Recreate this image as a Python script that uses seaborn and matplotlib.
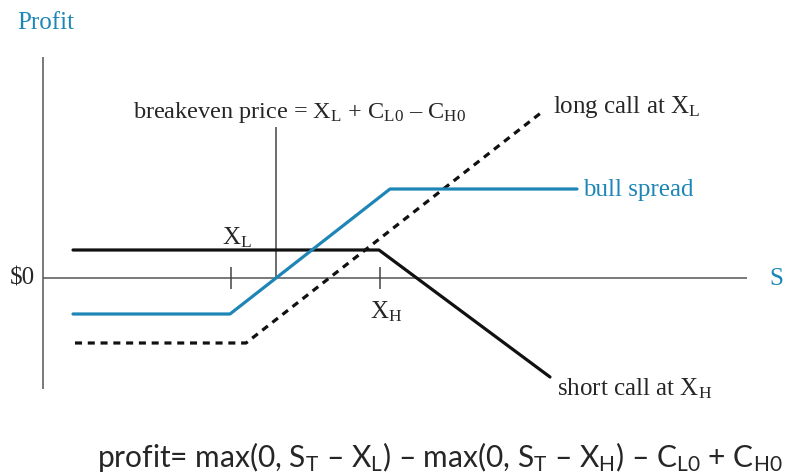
import matplotlib
matplotlib.use("Agg")
import matplotlib.pyplot as plt
import seaborn as sns
import pandas as pd

# payoff lines (S, profit)
short_s = [3.0, 33.6, 50.7]
short_p = [2.8, 2.8, -9.9]
bull_s = [3.0, 18.7, 34.7, 53.4]
bull_p = [-3.6, -3.6, 8.9, 8.9]
long_s = [3.2, 20.3, 49.9]
long_p = [-6.5, -6.5, 16.6]

x_low = 18.8
x_high = 33.7
breakeven = 23.3
breakeven_top = 15.1

teal = "#1d86b6"

sns.set_theme(style="white")
plt.rcParams["font.family"] = ["Liberation Serif", "DejaVu Serif"]
plt.rcParams["mathtext.fontset"] = "custom"
plt.rcParams["mathtext.rm"] = "Liberation Serif"
plt.rcParams["mathtext.it"] = "Liberation Serif:italic"
plt.rcParams["mathtext.sf"] = "Lato"

fig = plt.figure(figsize=(7.93, 4.77), dpi=100)
ax = fig.add_axes([0, 0, 1, 1])

df_short = pd.DataFrame({"S": short_s, "profit": short_p})
df_bull = pd.DataFrame({"S": bull_s, "profit": bull_p})
df_long = pd.DataFrame({"S": long_s, "profit": long_p})

# axes lines
ax.vlines(0, -11.1, 22.1, color="#555555", lw=1.1)
ax.hlines(0, 0, 70.4, color="#555555", lw=1.1)
ax.vlines([x_low, x_high], -1.1, 1.1, color="#444444", lw=1.1)
ax.vlines(breakeven, 0, breakeven_top, color="#444444", lw=1.1)

sns.lineplot(data=df_short, x="S", y="profit", sort=False, color="#111111", lw=2.3, ax=ax)
sns.lineplot(data=df_long, x="S", y="profit", sort=False, color="#111111", lw=2.3, ax=ax,
             linestyle=(0, (2.2, 1.8)))
sns.lineplot(data=df_bull, x="S", y="profit", sort=False, color=teal, lw=2.3, ax=ax)

ax.set_xlim(-4.3, 75.0)
ax.set_ylim(-19.8, 27.9)
ax.axis("off")

# labels
ax.text(-2.6, 25.6, "Profit", color=teal, fontsize=18, va="center", ha="left")
ax.text(-0.8, 0, "$0", fontsize=18, va="center", ha="right")
ax.text(72.6, 0, "S", color=teal, fontsize=18, va="center", ha="left")
ax.text(9.0, 16.1, r"breakeven price = $\mathrm{X_L}$ + $\mathrm{C_{L0}}$ – $\mathrm{C_{H0}}$",
        fontsize=17.5, va="baseline", ha="left")
ax.text(51.0, 16.6, r"long call at $\mathrm{X_L}$", fontsize=18, va="baseline", ha="left")
ax.text(54.0, 8.9, "bull spread", color=teal, fontsize=18, va="center", ha="left")
ax.text(17.9, 3.5, r"$\mathrm{X_L}$", fontsize=18, va="baseline", ha="left")
ax.text(32.7, -3.9, r"$\mathrm{X_H}$", fontsize=18, va="baseline", ha="left")
ax.text(51.4, -11.6, r"short call at $\mathrm{X_H}$", fontsize=18, va="baseline", ha="left")

ax.text(5.4, -18.8,
        r"profit= max(0, $\mathsf{S_T}$ – $\mathsf{X_L}$) – max(0, $\mathsf{S_T}$ – $\mathsf{X_H}$)"
        r" – $\mathsf{C_{L0}}$ + $\mathsf{C_{H0}}$",
        family=["Lato", "DejaVu Sans"], fontsize=21.5, va="baseline", ha="left")

fig.savefig("out.png", dpi=100)
